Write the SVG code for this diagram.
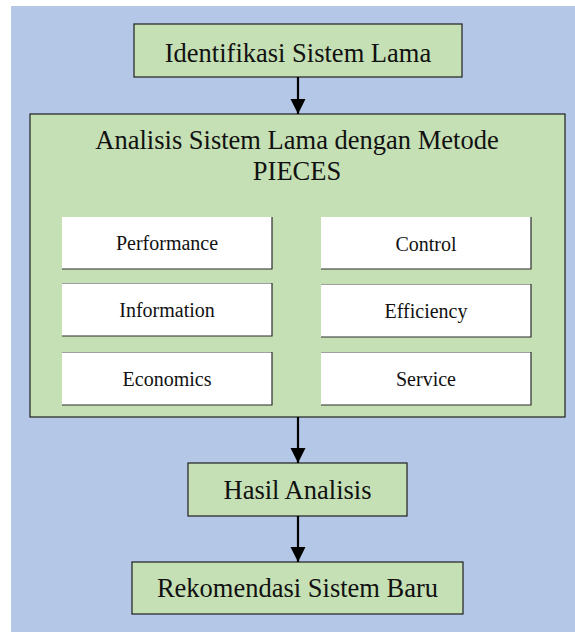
<svg xmlns="http://www.w3.org/2000/svg" width="575" height="632" viewBox="0 0 575 632">
  <defs>
    <marker id="arrow" markerWidth="16" markerHeight="16" refX="15" refY="7.5" orient="auto" markerUnits="userSpaceOnUse">
      <path d="M0,0 L15,7.5 L0,15 Z" fill="#000"/>
    </marker>
    <style>
      .green { fill: #c5e0b4; stroke: #1e1e1e; stroke-width: 1.2; }
      .white { fill: #ffffff; }
      .shade { fill: none; stroke: #2a2a2a; stroke-width: 1.2; }
      .topline { fill: none; stroke: #a0a0a0; stroke-width: 1; }
      text { font-family: 'Liberation Serif', 'Times New Roman', Times, serif; fill: #111; text-anchor: middle; }
      .big { font-size: 26.5px; }
      .small { font-size: 20px; }
      .conn { stroke: #000; stroke-width: 2.2; fill: none; }
    </style>
  </defs>
  <rect x="11" y="6" width="564" height="626" fill="#b4c7e7"/>

  <g id="identifikasi">
    <rect class="green" x="134" y="24" width="328" height="53"/>
    <text class="big" x="298" y="62" font-family="Liberation Serif, serif">Identifikasi Sistem Lama</text>
  </g>

  <g id="analisis">
    <rect class="green" x="30" y="114" width="535" height="303"/>
    <text class="big" x="297" y="149" font-family="Liberation Serif, serif">Analisis Sistem Lama dengan Metode</text>
    <text class="big" x="297" y="180" font-family="Liberation Serif, serif">PIECES</text>
  </g>

  <g id="performance">
    <rect class="white" x="62" y="217" width="210" height="52"/>
    <polyline class="shade" points="62,269 272,269 272,217"/>
    <text class="small" x="167" y="250" font-family="Liberation Serif, serif">Performance</text>
  </g>
  <g id="information">
    <rect class="white" x="62" y="283" width="210" height="53"/>
    <line class="topline" x1="62" y1="283.5" x2="272" y2="283.5"/>
    <polyline class="shade" points="62,336 272,336 272,283"/>
    <text class="small" x="167" y="317" font-family="Liberation Serif, serif">Information</text>
  </g>
  <g id="economics">
    <rect class="white" x="62" y="352" width="210" height="53"/>
    <line class="topline" x1="62" y1="352.5" x2="272" y2="352.5"/>
    <polyline class="shade" points="62,405 272,405 272,352"/>
    <text class="small" x="167" y="386" font-family="Liberation Serif, serif">Economics</text>
  </g>
  <g id="control">
    <rect class="white" x="321" y="217" width="210" height="52"/>
    <polyline class="shade" points="321,269 531,269 531,217"/>
    <text class="small" x="426" y="251" font-family="Liberation Serif, serif">Control</text>
  </g>
  <g id="efficiency">
    <rect class="white" x="321" y="284" width="210" height="53"/>
    <line class="topline" x1="321" y1="284.5" x2="531" y2="284.5"/>
    <polyline class="shade" points="321,337 531,337 531,284"/>
    <text class="small" x="426" y="318" font-family="Liberation Serif, serif">Efficiency</text>
  </g>
  <g id="service">
    <rect class="white" x="321" y="352" width="210" height="53"/>
    <line class="topline" x1="321" y1="352.5" x2="531" y2="352.5"/>
    <polyline class="shade" points="321,405 531,405 531,352"/>
    <text class="small" x="426" y="386" font-family="Liberation Serif, serif">Service</text>
  </g>

  <g id="hasil">
    <rect class="green" x="188" y="463" width="219" height="53"/>
    <text class="big" x="297.5" y="499" font-family="Liberation Serif, serif">Hasil Analisis</text>
  </g>

  <g id="rekomendasi">
    <rect class="green" x="132" y="562" width="331" height="52"/>
    <text class="big" x="297.5" y="597" font-family="Liberation Serif, serif">Rekomendasi Sistem Baru</text>
  </g>

  <g id="connectors">
    <line class="conn" x1="298" y1="77" x2="298" y2="114" marker-end="url(#arrow)"/>
    <line class="conn" x1="298" y1="417" x2="298" y2="463" marker-end="url(#arrow)"/>
    <line class="conn" x1="298" y1="516" x2="298" y2="562" marker-end="url(#arrow)"/>
  </g>
</svg>
